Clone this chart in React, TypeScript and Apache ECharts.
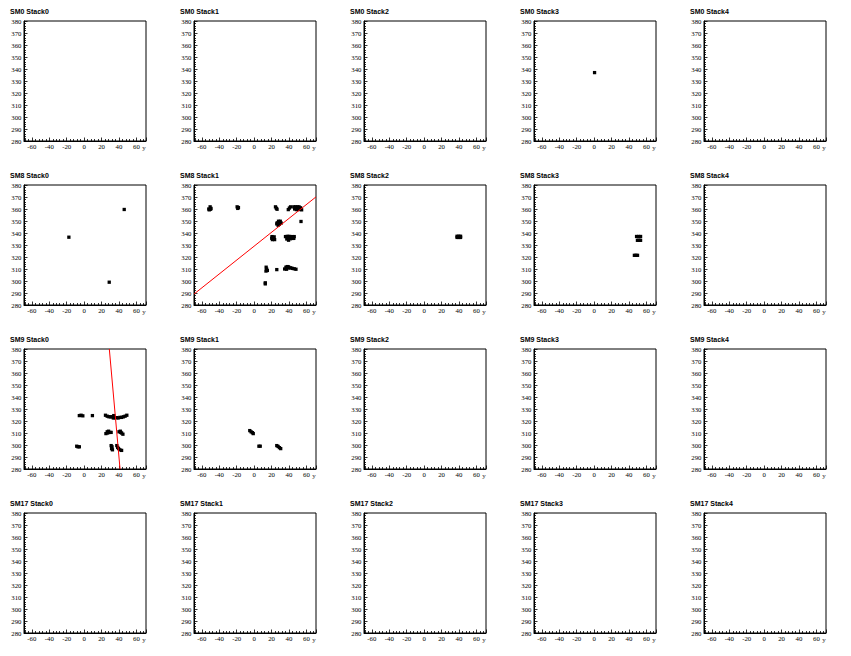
import React, { useEffect, useRef } from "react";
import * as echarts from "echarts";

const modules = ["SM0", "SM8", "SM9", "SM17"];
const stacks = ["Stack0", "Stack1", "Stack2", "Stack3", "Stack4"];
const xMin = -69;
const xMax = 71;
const yMin = 280;
const yMax = 380;
const yInterval = 10;
const xAxisTitle = "y";

const sm0Stack3Hits = [[0.5, 337]];

const sm8Stack0Hits = [[-17.5, 336.5], [46, 359.6], [28.8, 299]];

const sm8Stack1Hits = [
  [-52, 360], [-50.5, 361.8], [-49.5, 360.5], [-51.5, 359.3], [-50, 359.8],
  [-19.5, 361.8], [-18, 361.2], [-18.8, 360.5],
  [24.5, 361.8], [25.5, 360.6], [26.3, 359.8],
  [39.2, 359.5], [40.5, 360.8], [41.8, 361.8],
  [45.5, 361.8], [47.5, 361.8], [49.5, 361.8], [51.5, 361.8], [46.5, 360], [48.5, 359.5],
  [50.5, 359.5], [52.5, 359.8], [54.5, 359.3], [53.3, 361],
  [26.5, 348.5], [28, 349.8], [30, 349.8], [31, 348.3], [29, 347.2], [27.5, 346.5], [26, 347.6],
  [53.8, 349.6],
  [20.5, 337], [22, 335.5], [23.5, 334.5], [21, 334.5], [23, 336.8], [20.2, 335.6],
  [36, 337], [38, 337.2], [40, 337.2], [42, 337], [44, 337], [46, 337], [37.5, 335], [39.5, 334],
  [41.5, 335.2], [43.5, 335.5], [45.5, 335.5], [38.5, 336],
  [13.8, 311.5], [14.3, 310], [15.2, 308.8], [13.6, 308.3],
  [26, 309.5],
  [35, 310], [36.5, 311.5], [38, 312], [40, 310.8], [42, 311], [44, 310.5], [46, 310.2], [48, 309.8],
  [37.2, 309.8], [39.5, 311.8],
  [12.8, 298.5], [12.8, 297.6],
];
const sm8Stack1Fit = [[-69, 289.1], [71, 370.1]];

const sm8Stack2Hits = [
  [37.8, 337.3], [39.8, 337.3], [41.8, 337.3], [37.8, 336.3], [39.8, 336.3], [41.8, 336.3],
];

const sm8Stack3Hits = [
  [48.7, 337.1], [51, 337.1], [53.3, 337.1],
  [49.7, 333.9], [51.5, 333.9], [53.3, 333.9],
  [46.2, 321.4], [48, 321.4], [49.8, 321.4],
];

const sm9Stack0Hits = [
  [-5.5, 324.5], [-3.5, 324.8], [-1.5, 324.3],
  [9.5, 324.5],
  [24.5, 324.8], [26.5, 324], [28.5, 323.5], [30.5, 323.5], [32, 323.5], [33.5, 322.5], [35, 322.8],
  [37, 322.8], [39, 322.5], [41, 323], [43, 323], [45, 323.5], [47, 324], [49, 324.8], [34, 324.5],
  [25, 309.5], [26.5, 311], [28, 311.5], [29.5, 310.5], [31, 310.5], [27, 310],
  [40, 311], [41.5, 311.5], [43, 310], [44.5, 309], [42, 310.5],
  [-8.5, 299], [-7, 298.5], [-5.5, 298.5],
  [31, 299.5], [32, 298.5], [31.5, 297], [32.5, 296],
  [37.5, 299.5], [38.5, 298], [39.5, 297], [41, 296], [43, 295.5],
];
const sm9Stack0Fit = [[28.9, 380], [41.2, 280]];

const sm9Stack1Hits = [
  [-5, 312], [-3.5, 311], [-2, 310.3], [-1, 309.5],
  [5.5, 299], [7, 299],
  [26, 299.5], [27.5, 298.8], [29, 297.8], [30.5, 297],
];

const hitsByPanel: Record<string, number[][]> = {
  "SM0 Stack3": sm0Stack3Hits,
  "SM8 Stack0": sm8Stack0Hits,
  "SM8 Stack1": sm8Stack1Hits,
  "SM8 Stack2": sm8Stack2Hits,
  "SM8 Stack3": sm8Stack3Hits,
  "SM9 Stack0": sm9Stack0Hits,
  "SM9 Stack1": sm9Stack1Hits,
};
const fitsByPanel: Record<string, number[][]> = {
  "SM8 Stack1": sm8Stack1Fit,
  "SM9 Stack0": sm9Stack0Fit,
};

const CELL_W = 170;
const CELL_H = 164;
const PLOT_L = 24;
const PLOT_T = 21;
const PLOT_W = 122;
const PLOT_H = 120;
const SERIF = '"Liberation Serif", "Times New Roman", serif';

function buildOption() {
  const grids: any[] = [];
  const xAxes: any[] = [];
  const yAxes: any[] = [];
  const series: any[] = [];
  const graphics: any[] = [];
  let idx = 0;
  modules.forEach((m, r) => {
    stacks.forEach((s, c) => {
      const name = `${m} ${s}`;
      const left = PLOT_L + CELL_W * c;
      const top = PLOT_T + CELL_H * r;
      grids.push({
        left,
        top,
        width: PLOT_W,
        height: PLOT_H,
        show: true,
        borderColor: "#000",
        borderWidth: 1,
        backgroundColor: "#fff",
        containLabel: false,
        outerBoundsMode: "none",
      });
      xAxes.push({
        type: "value",
        gridIndex: idx,
        min: xMin,
        max: xMax,
        splitNumber: 7,
        axisLine: { show: true, onZero: false, lineStyle: { color: "#000", width: 1 } },
        axisTick: { show: true, inside: true, length: 3.5, lineStyle: { color: "#000", width: 0.8 } },
        minorTick: { show: true, splitNumber: 5, length: 2, lineStyle: { color: "#000", width: 0.8 } },
        splitLine: { show: false },
        axisLabel: {
          fontFamily: SERIF,
          fontSize: 6.8,
          color: "#000",
          margin: 2,
          showMinLabel: false,
          showMaxLabel: false,
        },
      });
      yAxes.push({
        type: "value",
        gridIndex: idx,
        min: yMin,
        max: yMax,
        interval: yInterval,
        axisLine: { show: true, onZero: false, lineStyle: { color: "#000", width: 1 } },
        axisTick: { show: true, inside: true, length: 3.5, lineStyle: { color: "#000", width: 0.8 } },
        minorTick: { show: true, splitNumber: 5, length: 2, lineStyle: { color: "#000", width: 0.8 } },
        splitLine: { show: false },
        axisLabel: {
          fontFamily: SERIF,
          fontSize: 6.8,
          color: "#000",
          margin: 2.5,
        },
      });
      const hits = hitsByPanel[name];
      if (hits) {
        series.push({
          type: "scatter",
          xAxisIndex: idx,
          yAxisIndex: idx,
          data: hits,
          symbol: "rect",
          symbolSize: 3.3,
          itemStyle: { color: "#000", opacity: 1 },
          silent: true,
        });
      }
      const fit = fitsByPanel[name];
      if (fit) {
        series.push({
          type: "line",
          xAxisIndex: idx,
          yAxisIndex: idx,
          data: fit,
          showSymbol: false,
          symbol: "none",
          lineStyle: { color: "#ff0000", width: 1 },
          clip: true,
          silent: true,
          z: 5,
        });
      }
      graphics.push({
        type: "text",
        x: 10 + CELL_W * c,
        y: 11 + CELL_H * r,
        style: {
          text: name,
          font: 'bold 7px "Liberation Sans", Arial, sans-serif',
          fill: "#000",
          align: "left",
          verticalAlign: "middle",
        },
      });
      graphics.push({
        type: "text",
        x: 144 + CELL_W * c,
        y: 148 + CELL_H * r,
        style: {
          text: xAxisTitle,
          font: '7px "Liberation Serif", serif',
          fill: "#333",
          align: "center",
          verticalAlign: "middle",
        },
      });
      idx++;
    });
  });
  return {
    animation: false,
    backgroundColor: "#fff",
    grid: grids,
    xAxis: xAxes,
    yAxis: yAxes,
    series,
    graphic: graphics,
  };
}

export default function App() {
  const ref = useRef<HTMLDivElement>(null);
  useEffect(() => {
    if (!ref.current) return;
    const chart = echarts.init(ref.current, undefined, { renderer: "svg" });
    chart.setOption(buildOption() as any);
    return () => chart.dispose();
  }, []);
  return (
    <div
      ref={ref}
      style={{ position: "absolute", left: 0, top: 0, width: 851, height: 656, background: "#fff" }}
    />
  );
}
